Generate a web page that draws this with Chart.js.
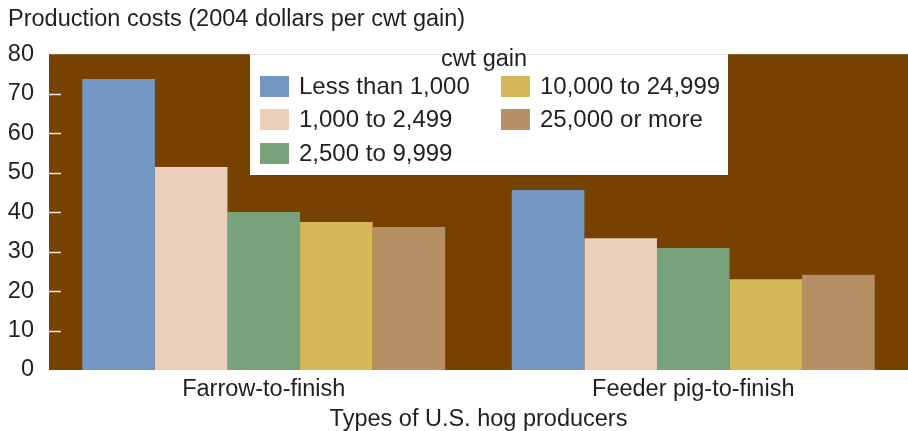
<!DOCTYPE html>
<html>
<head>
<meta charset="utf-8">
<script src="https://cdn.jsdelivr.net/npm/chart.js@4/dist/chart.umd.min.js"></script>
<style>
  body { margin: 0; background: #fff; }
  #wrap { width: 908px; height: 431px; position: relative; }
</style>
</head>
<body>
<div id="wrap"><canvas id="hogChart"></canvas></div>
<script>
// categories and series
const producerTypes = ["Farrow-to-finish", "Feeder pig-to-finish"];
const sizeClasses = ["Less than 1,000", "1,000 to 2,499", "2,500 to 9,999", "10,000 to 24,999", "25,000 or more"];
const lessThan1000 = [73.7, 45.6];
const from1000to2499 = [51.4, 33.4];
const from2500to9999 = [40.0, 30.9];
const from10000to24999 = [37.5, 23.0];
const over25000 = [36.2, 24.1];
const yTicks = [0, 10, 20, 30, 40, 50, 60, 70, 80];

const seriesValues = [lessThan1000, from1000to2499, from2500to9999, from10000to24999, over25000];
const seriesColors = ["#7396c2", "#ebcfbb", "#78a27a", "#d4b756", "#b68f65"];

const FONT = "'Liberation Sans', Arial, sans-serif";
const TEXT = "#231f20";
const FS = 23.5;

// brown plot background
const plotBackground = {
    id: "plotBackground",
    beforeDraw(chart) {
        const { ctx, chartArea: a } = chart;
        ctx.save();
        ctx.fillStyle = "#774100";
        ctx.fillRect(a.left, a.top, a.right - a.left, a.bottom - a.top);
        ctx.restore();
    }
};

// short white tick marks just inside the left edge
const innerTicks = {
    id: "innerTicks",
    beforeDatasetsDraw(chart) {
        const { ctx, chartArea: a } = chart;
        const y = chart.scales.y;
        ctx.save();
        ctx.strokeStyle = "#f4e6dc";
        ctx.lineWidth = 1.5;
        yTicks.slice(1, -1).forEach(v => {
            const py = Math.round(y.getPixelForValue(v)) + 0.5;
            ctx.beginPath();
            ctx.moveTo(a.left, py);
            ctx.lineTo(a.left + 12, py);
            ctx.stroke();
        });
        ctx.restore();
    }
};

// legend box drawn in the plot, two columns
const boxLegend = {
    id: "boxLegend",
    afterDatasetsDraw(chart) {
        const { ctx, chartArea: a } = chart;
        const left = 250, right = 728, bottom = 175;
        ctx.save();
        ctx.fillStyle = "#fff";
        ctx.fillRect(left, a.top, right - left, bottom - a.top);
        ctx.fillStyle = TEXT;
        ctx.font = FS + "px " + FONT;
        ctx.textBaseline = "middle";
        ctx.textAlign = "center";
        ctx.fillText("cwt gain", 484, 60);
        ctx.textAlign = "left";
        ctx.font = "24px " + FONT;
        const rows = [86, 119, 153];
        const cols = [260, 501];
        chart.data.datasets.forEach((ds, i) => {
            const col = i < 3 ? 0 : 1;
            const row = i < 3 ? i : i - 3;
            const x = cols[col], y = rows[row];
            ctx.fillStyle = ds.backgroundColor;
            ctx.fillRect(x, y - 10, 29, 21);
            ctx.fillStyle = TEXT;
            ctx.fillText(ds.label, x + 39, y + 1);
        });
        ctx.restore();
    }
};

new Chart(document.getElementById("hogChart"), {
    type: "bar",
    data: {
        labels: producerTypes,
        datasets: sizeClasses.map((name, i) => ({
            label: name,
            data: seriesValues[i],
            backgroundColor: seriesColors[i],
            borderWidth: 0,
            categoryPercentage: 0.845,
            barPercentage: 1.0
        }))
    },
    options: {
        responsive: true,
        maintainAspectRatio: false,
        animation: false,
        layout: { padding: { left: 8, right: 0, top: 0, bottom: 0 } },
        plugins: {
            legend: { display: false },
            tooltip: { enabled: false },
            title: {
                display: true,
                text: "Production costs (2004 dollars per cwt gain)",
                align: "start",
                color: TEXT,
                font: { family: FONT, size: FS, weight: "normal" },
                padding: { top: 5, bottom: 21 }
            }
        },
        scales: {
            x: {
                grid: { display: false, drawTicks: false },
                border: { display: false },
                ticks: { color: TEXT, font: { family: FONT, size: FS }, padding: 5 },
                title: {
                    display: true,
                    text: "Types of U.S. hog producers",
                    color: TEXT,
                    font: { family: FONT, size: FS, lineHeight: 1 },
                    padding: { top: 0, bottom: 0 }
                },
                afterFit(axis) { axis.height = 61; }
            },
            y: {
                min: 0,
                max: 80,
                grid: { display: false, drawTicks: false },
                border: { display: false },
                afterBuildTicks(axis) { axis.ticks = yTicks.map(v => ({ value: v })); },
                ticks: { color: TEXT, font: { family: FONT, size: FS }, padding: 15 },
                afterFit(axis) { axis.width = 41; }
            }
        }
    },
    plugins: [plotBackground, innerTicks, boxLegend]
});
</script>
</body>
</html>
